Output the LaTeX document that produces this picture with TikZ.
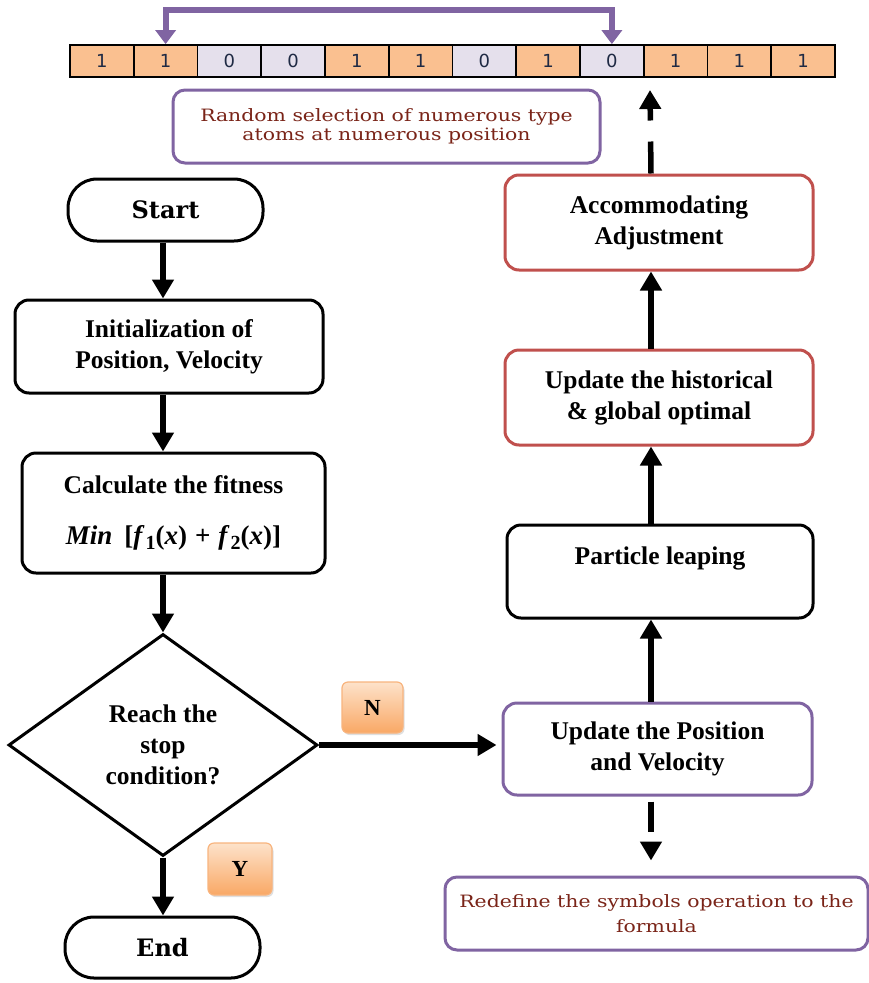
\documentclass[tikz,border=0pt]{standalone}
\usepackage{fontspec}
\setmainfont{Liberation Serif}
\newfontfamily\slabfont{DejaVu Serif}
\newfontfamily\notefont[FakeStretch=1.2]{DejaVu Serif}
\newfontfamily\cellfont{DejaVu Sans}
\usetikzlibrary{arrows.meta,shapes.geometric,shadows}

\definecolor{cell1}{HTML}{FAC090}
\definecolor{cell0}{HTML}{E5E0EC}
\definecolor{violetline}{HTML}{8064A2}
\definecolor{redline}{HTML}{C0504D}
\definecolor{notetext}{HTML}{7A2418}
\definecolor{tagtop}{HTML}{FDE2CA}
\definecolor{tagbot}{HTML}{F9A865}
\definecolor{tagedge}{HTML}{F8B47E}
\definecolor{digit}{HTML}{1F2A44}

% italic function name with a large upright index
\newcommand{\fidx}[2]{\textit{#1}\hspace{1pt}\raisebox{-5pt}{\fontsize{20}{20}\selectfont #2}}

\tikzset{
  procbox/.style={draw, line width=3pt, rounded corners=14pt, fill=white,
    align=center, inner sep=0pt, font=\fontsize{25.5}{31}\selectfont\bfseries},
  terminal/.style={draw, line width=3pt, rounded corners=29pt, fill=white,
    minimum width=195pt, minimum height=62pt, inner sep=0pt,
    font=\slabfont\fontsize{24}{28}\selectfont\bfseries},
  decision/.style={draw, diamond, line width=3pt, inner sep=0pt,
    minimum width=309pt, minimum height=222pt, shape aspect=1.39,
    align=center, font=\fontsize{25.5}{31}\selectfont\bfseries},
  note/.style={draw=violetline, line width=3pt, rounded corners=12pt,
    fill=white, align=center, inner sep=0pt, text=notetext},
  tag/.style={draw=tagedge, line width=1.2pt, rounded corners=6pt,
    top color=tagtop, bottom color=tagbot, inner sep=0pt,
    drop shadow={shadow xshift=1.5pt, shadow yshift=-2pt, opacity=0.25},
    font=\fontsize{23}{23}\selectfont\bfseries},
  cellbox/.style={draw, line width=1.8pt, minimum width=63.75pt,
    minimum height=32pt, inner sep=0pt, text=digit,
    font=\cellfont\fontsize{18}{18}\selectfont},
  flow/.style={line width=5.5pt, -{Triangle[width=21pt,length=19pt]}},
  swap/.style={draw=violetline, line width=6pt,
    {Triangle[width=20pt,length=14pt]}-{Triangle[width=20pt,length=14pt]}}
}

\begin{document}
\begin{tikzpicture}[x=1pt, y=-1pt]
\useasboundingbox (0,0) rectangle (869,983);

% the encoded particle: a row of twelve binary cells
\foreach \v [count=\i] in {1,1,0,0,1,1,0,1,0,1,1,1}
  \node[cellbox, fill=cell\v] (c\i) at ({70+63.75*(\i-0.5)},61) {\v};

% exchange of two positions in the row
\coordinate (bar) at (0,10);
\draw[swap] (c2.north) -- (c2.north |- bar) -| (c9.north);

\node[note, minimum width=427pt, minimum height=73pt,
      font=\notefont\fontsize{17}{18.5}\selectfont] (rand) at (386.5,126.5)
  {Random selection of numerous type\\atoms at numerous position};

% main loop, left column
\node[terminal] (start) at (165.5,210) {Start};
\node[procbox, minimum width=308pt, minimum height=93pt] (init) at (169,346.5)
  {Initialization of\\Position, Velocity};
\node[procbox, minimum width=303pt, minimum height=120pt] (calc) at (173.5,513)
  {Calculate the fitness\\[20pt]{\fontsize{27}{31}\selectfont\textit{Min}\hspace{12pt}[\fidx{f}{1}(\textit{x})\hspace{8pt}+\hspace{8pt}\fidx{f}{2}(\textit{x})]}};
\node[decision] (dec) at (163,745) {Reach the\\stop\\condition?};
\node[terminal, minimum height=61pt] (end) at (162.5,947.5) {End};

\node[tag, minimum width=61pt, minimum height=51pt] (ntag) at (372.5,707.5) {N};
\node[tag, minimum width=64pt, minimum height=52pt] (ytag) at (240,869) {Y};

% update steps, right column
\node[procbox, draw=violetline, minimum width=309pt, minimum height=92pt] (upd) at (657.5,749)
  {Update the Position\\and Velocity};
\node[procbox, minimum width=306pt, minimum height=93pt] (leap) at (660,571.5)
  {Particle leaping\\\mbox{}};
\node[procbox, draw=redline, minimum width=308pt, minimum height=95pt] (hist) at (659,397.5)
  {Update the historical\\\& global optimal};
\node[procbox, draw=redline, minimum width=308pt, minimum height=95pt] (acc) at (659,222.5)
  {Accommodating\\Adjustment};

\node[note, minimum width=423pt, minimum height=73pt,
      font=\notefont\fontsize{17}{25}\selectfont] (redef) at (656.5,913.5)
  {Redefine the symbols operation to the\\formula};

% connectors
\draw[flow] (start.south -| dec.north) -- (init.north -| dec.north);
\draw[flow] (init.south -| dec.north) -- (calc.north -| dec.north);
\draw[flow] (calc.south -| dec.north) -- (dec.north);
\draw[flow] (dec.south) -- (dec.south |- end.north);
\draw[flow, shorten >=5pt] (dec.east) -- (dec.east -| upd.west);

\coordinate (spine) at (651,0);
\draw[flow] (upd.north -| spine) -- (leap.south -| spine);
\draw[flow] (leap.north -| spine) -- (hist.south -| spine);
\draw[flow] (hist.north -| spine) -- (acc.south -| spine);
\coordinate (acctip) at (650,90);
\draw[flow, dash pattern=on 32pt off 21pt] (acc.north -| spine) -- (acctip);
\draw[flow, dash pattern=on 30pt off 15pt, dash phase=40pt, shorten >=15pt]
  (upd.south -| spine) -- (redef.north -| spine);
\end{tikzpicture}
\end{document}
